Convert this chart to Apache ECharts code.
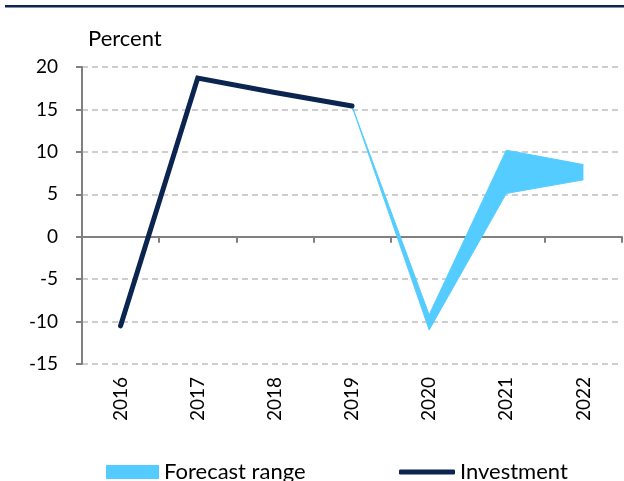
<!DOCTYPE html>
<html>
<head>
<meta charset="utf-8">
<script src="https://cdn.jsdelivr.net/npm/echarts@6/dist/echarts.min.js"></script>
<style>
  html, body { margin: 0; padding: 0; background: #fff; }
  #chart { width: 624px; height: 481px; }
</style>
</head>
<body>
<div id="chart"></div>
<script>
// data
const years = ['2016', '2017', '2018', '2019', '2020', '2021', '2022'];
const investment = [-10.5, 18.7, 17.0, 15.4, null, null, null];
const rangeLow = [null, null, null, 15.4, -11.0, 5.1, 6.7];
const rangeHigh = [null, null, null, 15.4, -9.2, 10.2, 8.5];
const yTicks = [-15, 20, 5]; // min, max, step

const rangeSpan = rangeHigh.map((v, i) => (v == null ? null : +(v - rangeLow[i]).toFixed(2)));

const navy = '#0b2550';
const sky = '#55ccff';
const font = 'Lato, "Open Sans", sans-serif';

const chart = echarts.init(document.getElementById('chart'), null, { renderer: 'canvas' });

chart.setOption({
  animation: false,
  textStyle: { fontFamily: font },
  graphic: [
    { type: 'rect', shape: { x: 5, y: 5, width: 619, height: 2.5 }, style: { fill: navy } },
    { type: 'text', left: 88, top: 28, style: { text: 'Percent', font: '22px ' + font, fill: '#000' } }
  ],
  legend: [
    {
      data: [{ name: 'Forecast range', icon: 'rect' }],
      left: 101, top: 456,
      itemWidth: 53, itemHeight: 14,
      textStyle: { fontSize: 22, color: '#000', fontFamily: font }
    },
    {
      data: [{ name: 'Investment', icon: 'roundRect' }],
      left: 394, top: 456,
      itemWidth: 56, itemHeight: 5,
      textStyle: { fontSize: 22, color: '#000', fontFamily: font }
    }
  ],
  grid: { left: 82, right: 2, top: 67, bottom: 117, containLabel: false },
  xAxis: [
    {
      type: 'category',
      data: years,
      position: 'bottom',
      axisLine: { show: false, onZero: false },
      axisTick: { show: false },
      axisLabel: { rotate: 90, margin: 13, fontSize: 19, color: '#000', fontFamily: font }
    },
    {
      type: 'category',
      data: years,
      position: 'bottom',
      axisLine: { show: true, onZero: true, lineStyle: { color: '#808080', width: 2 } },
      axisTick: { show: true, length: 6, lineStyle: { color: '#808080', width: 2 } },
      axisLabel: { show: false }
    }
  ],
  yAxis: {
    type: 'value',
    min: yTicks[0], max: yTicks[1], interval: yTicks[2],
    axisLine: { show: true, lineStyle: { color: '#808080', width: 2 } },
    axisTick: { show: true, length: 6, lineStyle: { color: '#808080', width: 2 } },
    axisLabel: { margin: 24, fontSize: 19, color: '#000', fontFamily: font },
    splitLine: { show: true, lineStyle: { color: '#bfbfbf', width: 1.5, type: [6, 4] } }
  },
  series: [
    {
      name: 'rangeBase',
      type: 'line',
      data: rangeLow,
      stack: 'range',
      stackStrategy: 'all',
      symbol: 'none',
      lineStyle: { color: sky, width: 1 },
      silent: true,
      z: 2
    },
    {
      name: 'Forecast range',
      type: 'line',
      data: rangeSpan,
      stack: 'range',
      stackStrategy: 'all',
      symbol: 'none',
      itemStyle: { color: sky },
      lineStyle: { color: sky, width: 1 },
      areaStyle: { color: sky, opacity: 1 },
      z: 2
    },
    {
      name: 'Investment',
      type: 'line',
      data: investment,
      symbol: 'none',
      itemStyle: { color: navy },
      lineStyle: { color: navy, width: 5, cap: 'round', join: 'miter' },
      z: 3
    }
  ]
});
</script>
</body>
</html>
